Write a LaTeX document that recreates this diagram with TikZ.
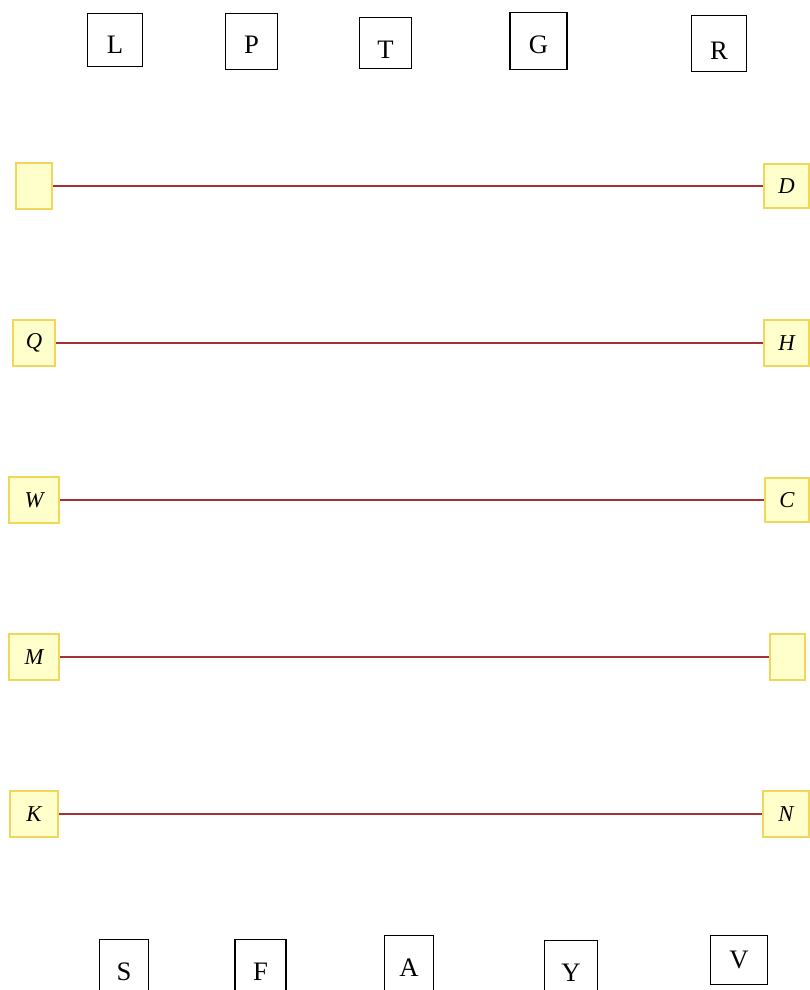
\documentclass[tikz,border=0pt]{standalone}
\usepackage{fontspec}
\setmainfont{Liberation Serif}
\definecolor{portfill}{RGB}{255,255,204}
\definecolor{portedge}{RGB}{240,214,90}
\definecolor{linkred}{RGB}{165,50,50}

\begin{document}
\begin{tikzpicture}[
  x=0.75pt, y=-0.75pt,
  letterbox/.style={draw, line width=1.1pt, inner sep=0pt, text depth=0pt, font=\fontsize{20}{24}\selectfont},
  portbox/.style={draw=portedge, fill=portfill, line width=1.6pt, inner sep=0pt, font=\fontsize{17}{20}\selectfont\itshape},
  link/.style={draw=linkred, line width=0.9pt}
]
\useasboundingbox (0,0) rectangle (810,990);

% top row
\node[letterbox, minimum width=41pt, minimum height=40pt, text height=20.7pt] (tL) at (115,40) {L};
\node[letterbox, minimum width=39pt, minimum height=42pt, text height=18.5pt] (tP) at (251.5,41.5) {P};
\node[letterbox, minimum width=39pt, minimum height=38pt, text height=23.5pt] (tT) at (385.5,43) {T};
\node[letterbox, minimum width=43pt, minimum height=43pt, text height=19.2pt] (tG) at (538.5,41) {G};
\node[letterbox, minimum width=41pt, minimum height=42pt, text height=24pt] (tR) at (719,43.5) {R};

% left ports
\node[portbox, minimum width=27pt, minimum height=34pt] (lA) at (34,186) {};
\node[portbox, minimum width=31pt, minimum height=34pt] (lQ) at (34,343) {Q};
\node[portbox, minimum width=38pt, minimum height=34pt] (lW) at (34,500) {W};
\node[portbox, minimum width=38pt, minimum height=35pt] (lM) at (34,657) {M};
\node[portbox, minimum width=36pt, minimum height=35pt] (lK) at (34,814) {K};

% right ports
\node[portbox, minimum width=34pt, minimum height=33pt] (rD) at (786.5,186) {D};
\node[portbox, minimum width=34pt, minimum height=34pt] (rH) at (786.5,343) {H};
\node[portbox, minimum width=33pt, minimum height=33pt] (rC) at (787,500) {C};
\node[portbox, minimum width=26pt, minimum height=35pt] (rE) at (787.5,657) {};
\node[portbox, minimum width=35pt, minimum height=35pt] (rN) at (786,814) {N};

% links
\draw[link] (lA) -- (rD);
\draw[link] (lQ) -- (rH);
\draw[link] (lW) -- (rC);
\draw[link] (lM) -- (rE);
\draw[link] (lK) -- (rN);

% bottom row
\node[letterbox, minimum width=37pt, minimum height=49pt] (bS) at (124,972) {S};
\node[letterbox, minimum width=38pt, minimum height=49pt] (bF) at (260.5,972) {F};
\node[letterbox, minimum width=37pt, minimum height=49pt] (bA) at (409,968) {A};
\node[letterbox, minimum width=40pt, minimum height=49pt] (bY) at (571,973) {Y};
\node[letterbox, minimum width=43pt, minimum height=37pt] (bV) at (739,960) {V};
\end{tikzpicture}
\end{document}
